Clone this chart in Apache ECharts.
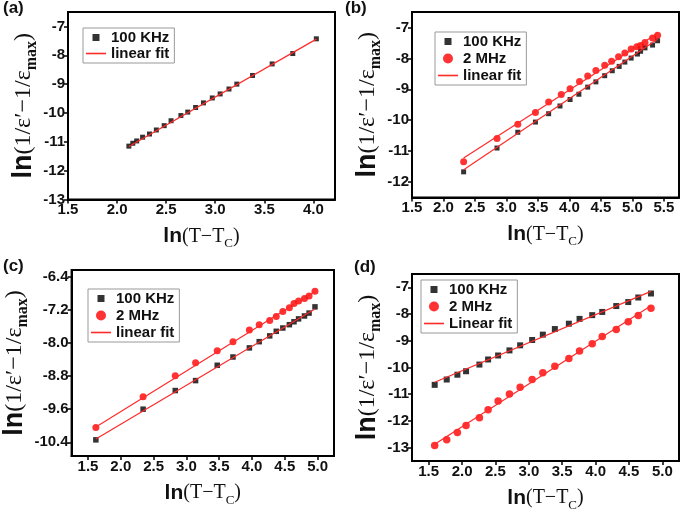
<!DOCTYPE html>
<html><head><meta charset="utf-8">
<script src="https://cdn.jsdelivr.net/npm/echarts@6/dist/echarts.min.js"></script>
<style>html,body{margin:0;padding:0;background:#fff}#c{width:685px;height:514px}</style>
</head><body><div id="c"></div>
<script>
// ---- panel (a) ----
const aX = [2.12,2.16,2.20,2.26,2.33,2.40,2.48,2.55,2.65,2.72,2.80,2.88,2.97,3.05,3.14,3.22,3.38,3.58,3.79,4.03];
const a100k = [-11.15,-11.05,-10.97,-10.84,-10.73,-10.59,-10.44,-10.27,-10.09,-9.97,-9.81,-9.65,-9.48,-9.34,-9.17,-9.00,-8.70,-8.30,-7.94,-7.43];
const aFitX = [2.12, 4.03];
const aFit100k = [-11.16, -7.44];
// ---- panel (b) ----
const bX100k = [2.32,2.85,3.18,3.46,3.67,3.85,4.01,4.15,4.29,4.42,4.56,4.68,4.79,4.88,4.98,5.08,5.13,5.20,5.32,5.40];
const b100k = [-11.67,-10.90,-10.39,-10.06,-9.79,-9.54,-9.33,-9.16,-8.93,-8.76,-8.56,-8.40,-8.26,-8.12,-7.99,-7.86,-7.77,-7.66,-7.57,-7.43];
const bX2m = [2.32,2.85,3.18,3.46,3.67,3.87,4.01,4.16,4.29,4.42,4.56,4.67,4.78,4.88,4.98,5.07,5.13,5.20,5.32,5.40];
const b2m = [-11.34,-10.59,-10.13,-9.75,-9.41,-9.17,-8.98,-8.75,-8.57,-8.39,-8.22,-8.09,-7.95,-7.83,-7.70,-7.62,-7.58,-7.49,-7.34,-7.25];
const bFitX = [2.32, 5.40];
const bFit100k = [-11.60, -7.38];
const bFit2m = [-11.22, -7.19];
// ---- panel (c) ----
const cX = [1.62,2.34,2.83,3.14,3.47,3.71,3.96,4.11,4.27,4.37,4.47,4.57,4.64,4.71,4.80,4.87,4.96];
const c100k = [-10.34,-9.60,-9.15,-8.91,-8.54,-8.34,-8.12,-7.97,-7.83,-7.72,-7.64,-7.56,-7.49,-7.42,-7.35,-7.28,-7.13];
const c2m = [-10.04,-9.30,-8.79,-8.48,-8.19,-7.97,-7.69,-7.56,-7.46,-7.36,-7.24,-7.15,-7.05,-6.99,-6.93,-6.87,-6.75];
const cFitX = [1.62, 4.96];
const cFit100k = [-10.32, -7.18];
const cFit2m = [-10.03, -6.76];
// ---- panel (d) ----
const dX = [1.59,1.77,1.93,2.06,2.26,2.39,2.54,2.71,2.87,3.05,3.21,3.39,3.60,3.76,3.95,4.10,4.31,4.49,4.64,4.83];
const d100k = [-10.65,-10.45,-10.27,-10.14,-9.89,-9.70,-9.55,-9.36,-9.17,-8.97,-8.77,-8.56,-8.36,-8.18,-8.04,-7.92,-7.70,-7.55,-7.38,-7.23];
const d2m = [-12.92,-12.70,-12.43,-12.17,-11.88,-11.58,-11.25,-10.99,-10.74,-10.45,-10.20,-9.95,-9.66,-9.38,-9.11,-8.84,-8.58,-8.29,-8.05,-7.78];
const dFitX = [1.59, 4.83];
const dFit100k = [-10.55, -7.15];
const dFit2m = [-12.87, -7.69];
// ---- tick labels ----
const aXTicks = [1.5,2.0,2.5,3.0,3.5,4.0];
const aYTicks = [-13,-12,-11,-10,-9,-8,-7];
const bXTicks = [1.5,2.0,2.5,3.0,3.5,4.0,4.5,5.0,5.5];
const bYTicks = [-12,-11,-10,-9,-8,-7];
const cXTicks = [1.5,2.0,2.5,3.0,3.5,4.0,4.5,5.0];
const cYTicks = [-10.4,-9.6,-8.8,-8.0,-7.2,-6.4];
const dXTicks = [1.5,2.0,2.5,3.0,3.5,4.0,4.5,5.0];
const dYTicks = [-13,-12,-11,-10,-9,-8,-7];
const panelLabels = ['(a)','(b)','(c)','(d)'];

const SANS = '"Liberation Sans", Arial, sans-serif';
const SERIF = '"Liberation Serif", "Times New Roman", serif';
const FIT_RED = '#ff2a2a';
const zip = (xs, ys) => xs.map((x, i) => [x, ys[i]]);
const squareIcon = 'path://M0,0M10,10M1.5,1.5L8.5,1.5L8.5,8.5L1.5,8.5Z';
const lineIcon = 'path://M0,0M20,10M0,4.2L20,4.2L20,5.8L0,5.8Z';

const grids = [
  {left: 68, top: 12, width: 267, height: 187.5},
  {left: 412, top: 12, width: 267, height: 185.5},
  {left: 64, top: 270, width: 270, height: 186},
  {left: 412, top: 274, width: 267, height: 187}
].map(g => Object.assign(g, {show: true, borderColor: '#000', borderWidth: 2, containLabel: false}));

const xRanges = [[1.5, 4.22], [1.5, 5.74], [1.25, 5.25], [1.25, 5.25]];
const yRanges = [[-13, -6.5], [-12.5, -6.5], [-10.73, -6.24], [-13.5, -6.5]];
const xTicks = [aXTicks, bXTicks, cXTicks, dXTicks];
const yTicks = [aYTicks, bYTicks, cYTicks, dYTicks];
const yDec = [0, 0, 1, 0];
const yNameGap = [24, 25, 33, 23.5];

const xName = '{ln|ln}{t|(T\u2212T}{s|C}{t|)}';
const yName = '{ln|ln}{t|(1/\u03b5\u2032\u22121/\u03b5}{s|max}{t|)}';

const xAxes = xRanges.map((r, i) => ({
  type: 'value', gridIndex: i, min: r[0], max: r[1],
  splitLine: {show: false},
  axisLine: {show: true, lineStyle: {color: '#000', width: 2}},
  axisTick: {show: true, inside: false, length: 4, lineStyle: {color: '#000', width: 1.5}, customValues: xTicks[i]},
  axisLabel: {customValues: xTicks[i], formatter: v => v.toFixed(1), fontSize: 15, fontWeight: 'bold', color: '#111', fontFamily: SANS, margin: 3},
  name: xName, nameLocation: 'middle', nameGap: 23,
  nameTextStyle: {
    rich: {
      ln: {fontFamily: SANS, fontWeight: 'bold', fontSize: 21, color: '#111', lineHeight: 28, verticalAlign: 'middle'},
      t: {fontFamily: SERIF, fontSize: 20, color: '#111', lineHeight: 28, verticalAlign: 'middle'},
      s: {fontFamily: SERIF, fontSize: 13, color: '#111', lineHeight: 12, verticalAlign: 'bottom'}
    }
  }
}));

const yAxes = yRanges.map((r, i) => ({
  type: 'value', gridIndex: i, min: r[0], max: r[1],
  splitLine: {show: false},
  axisLine: {show: true, lineStyle: {color: '#000', width: 2}},
  axisTick: {show: true, inside: false, length: 4, lineStyle: {color: '#000', width: 1.5}, customValues: yTicks[i]},
  axisLabel: {customValues: yTicks[i], formatter: v => v.toFixed(yDec[i]), fontSize: 15, fontWeight: 'bold', color: '#111', fontFamily: SANS, margin: 3},
  name: yName, nameLocation: 'middle', nameRotate: 90, nameGap: yNameGap[i],
  nameTextStyle: {
    rich: {
      ln: {fontFamily: SANS, fontWeight: 'bold', fontSize: 27, color: '#111', lineHeight: 32, verticalAlign: 'middle'},
      t: {fontFamily: SERIF, fontSize: 24, color: '#111', lineHeight: 32, verticalAlign: 'middle'},
      s: {fontFamily: SERIF, fontWeight: 'bold', fontSize: 16, color: '#111', lineHeight: 18, verticalAlign: 'bottom'}
    }
  }
}));

function scatter(name, gi, xs, ys, shape, size, color) {
  return {type: 'scatter', name, xAxisIndex: gi, yAxisIndex: gi, data: zip(xs, ys),
    symbol: shape, symbolSize: size, itemStyle: {color}, z: 2, silent: true};
}
function fit(name, gi, xs, ys) {
  return {type: 'line', name, xAxisIndex: gi, yAxisIndex: gi, data: zip(xs, ys),
    symbol: 'none', showSymbol: false, lineStyle: {color: FIT_RED, width: 1.2}, itemStyle: {color: FIT_RED}, z: 3, silent: true};
}

const series = [
  scatter('100 KHz', 0, aX, a100k, 'rect', 5, '#000'),
  fit('linear fit', 0, aFitX, aFit100k),
  scatter('100 KHz', 1, bX100k, b100k, 'rect', 5, '#000'),
  scatter('2 MHz', 1, bX2m, b2m, 'circle', 7, '#ff0000'),
  fit('linear fit', 1, bFitX, bFit100k),
  fit('linear fit', 1, bFitX, bFit2m),
  scatter('100 KHz', 2, cX, c100k, 'rect', 5.5, '#000'),
  scatter('2 MHz', 2, cX, c2m, 'circle', 7, '#ff0000'),
  fit('linear fit', 2, cFitX, cFit100k),
  fit('linear fit', 2, cFitX, cFit2m),
  scatter('100 KHz', 3, dX, d100k, 'rect', 6, '#000'),
  scatter('2 MHz', 3, dX, d2m, 'circle', 7.5, '#ff0000'),
  fit('Linear fit', 3, dFitX, dFit100k),
  fit('Linear fit', 3, dFitX, dFit2m)
];

function legend(left, top, names, gap) {
  return {
    left, top, orient: 'vertical', itemWidth: 20, itemHeight: 10, itemGap: gap,
    padding: [2, 5, 2, 3], borderColor: '#999', borderWidth: 1, selectedMode: false,
    textStyle: {fontFamily: SANS, fontWeight: 'bold', fontSize: 15, color: '#111'},
    data: names.map(n => n === '100 KHz' ? {name: n, icon: squareIcon, itemStyle: {color: '#000', borderWidth: 0}}
      : n === '2 MHz' ? {name: n, icon: 'circle', itemStyle: {color: '#ff0000', borderWidth: 0}}
      : {name: n, icon: lineIcon, itemStyle: {color: FIT_RED, borderColor: FIT_RED, borderWidth: 0},
         lineStyle: {color: FIT_RED}})
  };
}

const legends = [
  legend(83, 28, ['100 KHz', 'linear fit'], 1),
  legend(435, 32, ['100 KHz', '2 MHz', 'linear fit'], 2),
  legend(88, 289, ['100 KHz', '2 MHz', 'linear fit'], 2),
  legend(421, 280, ['100 KHz', '2 MHz', 'Linear fit'], 2)
];

const labelPos = [[3, 0], [345, 0], [3, 258], [354, 259]];
const graphic = panelLabels.map((t, i) => ({
  type: 'text', left: labelPos[i][0], top: labelPos[i][1],
  style: {text: t, font: 'bold 17px ' + SANS, fill: '#111'}
}));

const chart = echarts.init(document.getElementById('c'), null, {renderer: 'canvas'});
chart.setOption({
  animation: false,
  backgroundColor: '#fff',
  grid: grids, xAxis: xAxes, yAxis: yAxes,
  legend: legends, series, graphic
});
</script></body></html>
